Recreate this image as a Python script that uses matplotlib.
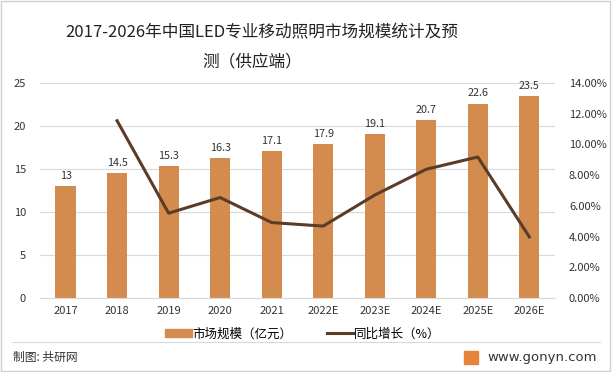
import matplotlib.pyplot as plt
from matplotlib.patches import Rectangle
from matplotlib.lines import Line2D

plt.rcParams['font.family'] = ['Noto Sans CJK SC', 'DejaVu Sans']

# --- data ---
years = ["2017", "2018", "2019", "2020", "2021", "2022E", "2023E", "2024E", "2025E", "2026E"]
market_size = [13, 14.5, 15.3, 16.3, 17.1, 17.9, 19.1, 20.7, 22.6, 23.5]
growth_years = ["2018", "2019", "2020", "2021", "2022E", "2023E", "2024E", "2025E", "2026E"]
growth_pct = [11.54, 5.52, 6.54, 4.91, 4.68, 6.70, 8.38, 9.18, 3.98]

bar_color = "#D38C4D"
line_color = "#5C3B28"

fig = plt.figure(figsize=(6.12, 3.72), dpi=100)
fig.patch.set_facecolor("white")

ax = fig.add_axes([0.065, 0.199, 0.842, 0.578])
x = list(range(len(years)))
ax.bar(x, market_size, width=0.39, color=bar_color, zorder=2)
for xi, v in zip(x, market_size):
    ax.text(xi, v + 0.6, f"{v:g}", ha="center", va="bottom", fontsize=7.8, color="#333333")

ax.set_ylim(0, 25)
ax.set_yticks([0, 5, 10, 15, 20, 25])
ax.set_xlim(-0.5, len(years) - 0.5)
ax.set_xticks(x)
ax.set_xticklabels(years)
ax.grid(axis="y", color="#D9D9D9", linewidth=0.8, zorder=0)
for s in ax.spines.values():
    s.set_visible(False)
ax.spines["bottom"].set_visible(True)
ax.spines["bottom"].set_color("#D9D9D9")
ax.tick_params(axis="both", length=0, labelsize=8, colors="#333333")
ax.tick_params(axis="y", pad=10)
ax.tick_params(axis="x", pad=6)

ax2 = ax.twinx()
gx = [years.index(y) for y in growth_years]
ax2.plot(gx, growth_pct, color=line_color, linewidth=2.2, zorder=3)
ax2.set_ylim(0, 14)
ax2.set_yticks(range(0, 15, 2))
ax2.set_yticklabels([f"{t:.2f}%" for t in range(0, 15, 2)])
for s in ax2.spines.values():
    s.set_visible(False)
ax2.tick_params(axis="y", length=0, labelsize=8, colors="#333333", pad=10)

# title
fig.text(0.428, 0.912, "2017-2026年中国LED专业移动照明市场规模统计及预", ha="center", va="center",
         fontsize=12, color="#222222")
fig.text(0.412, 0.833, "测（供应端）", ha="center", va="center", fontsize=12, color="#222222")

# legend
handles = [Rectangle((0, 0), 1, 1, color=bar_color),
           Line2D([0], [0], color=line_color, linewidth=2.2)]
fig.legend(handles, ["市场规模（亿元）", "同比增长（%）"], loc="center", bbox_to_anchor=(0.495, 0.102),
           ncol=2, frameon=False, fontsize=9, handlelength=2.1, handleheight=0.6,
           columnspacing=2.7, handletextpad=0.1)

# footer
fig.add_artist(Line2D([0.02, 0.98], [0.081, 0.081], color="#D9D9D9", linewidth=0.8))
fig.text(0.021, 0.04, "制图: 共研网", ha="left", va="center", fontsize=8.5, color="#333333")
fig.add_artist(Rectangle((0.758, 0.022), 0.023, 0.035, color="#E8843A", transform=fig.transFigure))
fig.text(0.796, 0.04, "www.gonyn.com", ha="left", va="center", fontsize=9.5, color="#333333",
         family="DejaVu Sans")

# outer border
fig.add_artist(Rectangle((0.002, 0.003), 0.995, 0.993, fill=False, edgecolor="#D0D0D0",
                         linewidth=1, transform=fig.transFigure))

fig.savefig("out.png", dpi=100)
